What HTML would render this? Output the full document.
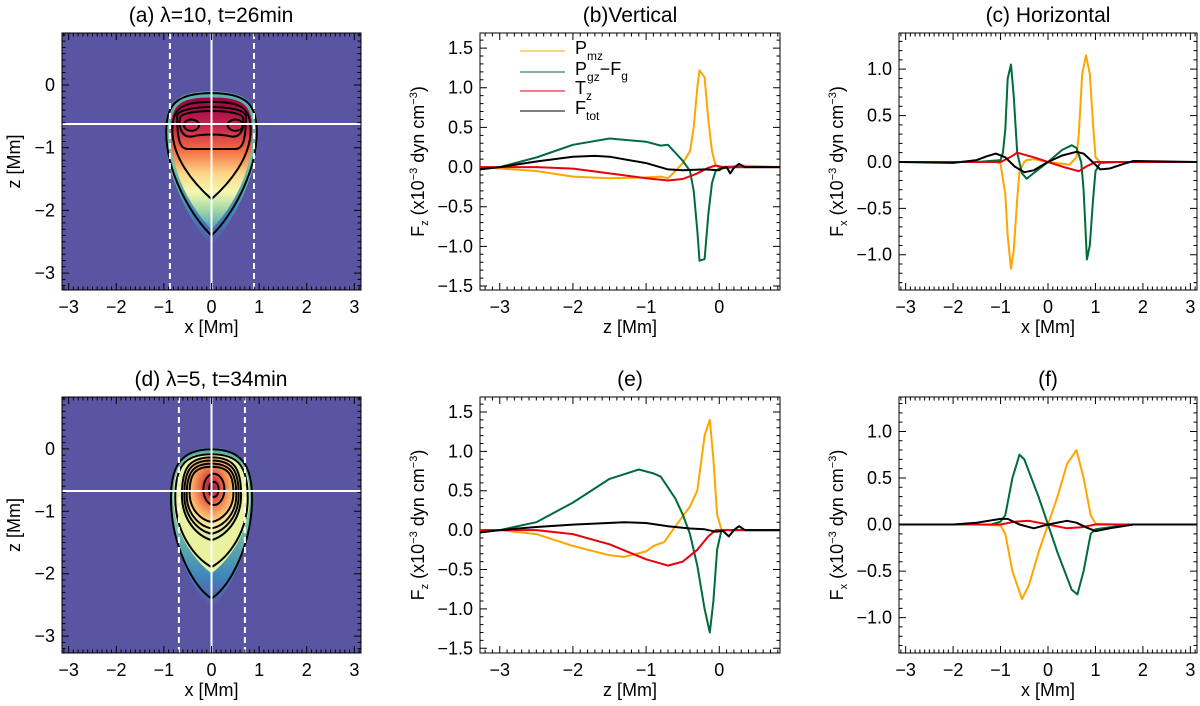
<!DOCTYPE html>
<html><head><meta charset="utf-8">
<style>
html,body{margin:0;padding:0;background:#fff;}
svg{display:block;font-family:"Liberation Sans",sans-serif;}
.tl{font-size:18px;fill:#000;}
.tt{font-size:21px;fill:#000;}
</style></head>
<body>
<svg id="fig" width="1200" height="706" viewBox="0 0 1200 706" xmlns="http://www.w3.org/2000/svg">
<defs>
<linearGradient id="gA" x1="0" y1="1" x2="0" y2="0">
<stop offset="0" stop-color="#9e0142"/><stop offset="0.22" stop-color="#c2244d"/><stop offset="0.4" stop-color="#f46d43"/><stop offset="0.58" stop-color="#fdd888"/><stop offset="0.72" stop-color="#f4f9b0"/><stop offset="0.86" stop-color="#9fd6a4"/><stop offset="1" stop-color="#4b9bbd"/>
</linearGradient>
<linearGradient id="gOut" x1="0" y1="1" x2="0" y2="0">
<stop offset="0" stop-color="#5aaeb0"/><stop offset="0.5" stop-color="#6fc0a6"/><stop offset="0.8" stop-color="#3f86bb"/><stop offset="1" stop-color="#5a55a3"/>
</linearGradient>
<radialGradient id="gD" cx="0.5" cy="0.65" r="0.6">
<stop offset="0" stop-color="#a0103f"/><stop offset="0.25" stop-color="#e0503e"/><stop offset="0.5" stop-color="#f89e5a"/><stop offset="0.75" stop-color="#fde89a"/><stop offset="1" stop-color="#d4ee9c"/>
</radialGradient>
<clipPath id="clipA"><rect x="62" y="33" width="299" height="257"/></clipPath>
<clipPath id="clipD"><rect x="62" y="397" width="299" height="256"/></clipPath>
</defs>

<g clip-path="url(#clipA)">
<rect x="62" y="33" width="299" height="257" fill="#5a55a3"/>
<g transform="translate(211.5,85) scale(47.7,-62.7)">
<path d="M0,-0.1 C0.75,-0.1 0.97,-0.3 0.97,-0.75 C0.97,-1.45 0.45,-2.2 0,-2.55 C-0.45,-2.2 -0.97,-1.45 -0.97,-0.75 C-0.97,-0.3 -0.75,-0.1 0,-0.1Z" fill="url(#gOut)"/>
<path d="M0,-0.2 C0.65,-0.2 0.86,-0.3 0.86,-0.75 C0.86,-1.4 0.4,-2.0 0,-2.3 C-0.4,-2.0 -0.86,-1.4 -0.86,-0.75 C-0.86,-0.3 -0.65,-0.2 0,-0.2Z" fill="url(#gA)"/>
<g fill="none" stroke="#000" stroke-width="2">
<path vector-effect="non-scaling-stroke" d="M0,-0.13 C0.72,-0.13 0.95,-0.3 0.95,-0.75 C0.95,-1.4 0.42,-2.1 0,-2.4 C-0.42,-2.1 -0.95,-1.4 -0.95,-0.75 C-0.95,-0.3 -0.72,-0.13 0,-0.13Z"/>
<path vector-effect="non-scaling-stroke" d="M0,-0.27 C0.6,-0.27 0.82,-0.35 0.82,-0.72 C0.82,-1.15 0.4,-1.55 0,-1.82 C-0.4,-1.55 -0.82,-1.15 -0.82,-0.72 C-0.82,-0.35 -0.6,-0.27 0,-0.27Z"/>
<path vector-effect="non-scaling-stroke" d="M-0.72,-0.5 C-0.72,-0.3 0.72,-0.3 0.72,-0.5 C0.72,-0.9 0.65,-1.02 0.5,-1.02 L-0.5,-1.02 C-0.65,-1.02 -0.72,-0.9 -0.72,-0.5Z"/>
<path vector-effect="non-scaling-stroke" d="M-0.66,-0.52 C-0.6,-0.38 0.6,-0.38 0.66,-0.52 C0.7,-0.7 0.6,-0.85 0.4,-0.82 C0.2,-0.78 -0.2,-0.78 -0.4,-0.82 C-0.6,-0.85 -0.7,-0.7 -0.66,-0.52Z"/>
<ellipse vector-effect="non-scaling-stroke" cx="-0.42" cy="-0.64" rx="0.16" ry="0.09"/>
<ellipse vector-effect="non-scaling-stroke" cx="0.5" cy="-0.64" rx="0.16" ry="0.09"/>
</g>
</g>
<line x1="211.5" y1="33" x2="211.5" y2="290" stroke="#fff" stroke-width="2"/>
<line x1="62" y1="124" x2="361" y2="124" stroke="#fff" stroke-width="2"/>
<line x1="169.9" y1="33" x2="169.9" y2="290" stroke="#fff" stroke-width="2" stroke-dasharray="6,4"/>
<line x1="254" y1="33" x2="254" y2="290" stroke="#fff" stroke-width="2" stroke-dasharray="6,4"/>
</g>

<g clip-path="url(#clipD)">
<rect x="62" y="397" width="299" height="256" fill="#5a55a3"/>
<g transform="translate(211.5,448) scale(47.7,-62.7)">
<path d="M0,0.0 C0.65,0.0 0.87,-0.3 0.87,-0.8 C0.87,-1.5 0.42,-2.25 0,-2.55 C-0.42,-2.25 -0.87,-1.5 -0.87,-0.8 C-0.87,-0.3 -0.65,0.0 0,0.0Z" fill="url(#gOut)"/>
<path d="M0,-0.08 C0.6,-0.08 0.8,-0.3 0.8,-0.8 C0.8,-1.35 0.35,-1.8 0,-2.0 C-0.35,-1.8 -0.8,-1.35 -0.8,-0.8 C-0.8,-0.3 -0.6,-0.08 0,-0.08Z" fill="#e9f29e"/>
<path d="M0,-0.15 C0.5,-0.15 0.62,-0.35 0.62,-0.75 C0.62,-1.15 0.3,-1.4 0,-1.5 C-0.3,-1.4 -0.62,-1.15 -0.62,-0.75 C-0.62,-0.35 -0.5,-0.15 0,-0.15Z" fill="url(#gD)"/>
<g fill="none" stroke="#000" stroke-width="2">
<path vector-effect="non-scaling-stroke" d="M0,-0.02 C0.65,-0.02 0.85,-0.3 0.85,-0.8 C0.85,-1.5 0.42,-2.2 0,-2.4 C-0.42,-2.2 -0.85,-1.5 -0.85,-0.8 C-0.85,-0.3 -0.65,-0.02 0,-0.02Z"/>
<path vector-effect="non-scaling-stroke" d="M0,-0.1 C0.58,-0.1 0.76,-0.3 0.76,-0.8 C0.76,-1.35 0.35,-1.75 0,-1.9 C-0.35,-1.75 -0.76,-1.35 -0.76,-0.8 C-0.76,-0.3 -0.58,-0.1 0,-0.1Z"/>
<path vector-effect="non-scaling-stroke" d="M0,-0.15 C0.5,-0.15 0.62,-0.35 0.62,-0.75 C0.62,-1.15 0.3,-1.4 0,-1.47 C-0.3,-1.4 -0.62,-1.15 -0.62,-0.75 C-0.62,-0.35 -0.5,-0.15 0,-0.15Z"/>
<path vector-effect="non-scaling-stroke" d="M0,-0.2 C0.45,-0.2 0.57,-0.37 0.57,-0.75 C0.57,-1.1 0.28,-1.32 0,-1.37 C-0.28,-1.32 -0.57,-1.1 -0.57,-0.75 C-0.57,-0.37 -0.45,-0.2 0,-0.2Z"/>
<path vector-effect="non-scaling-stroke" d="M0,-0.25 C0.4,-0.25 0.52,-0.4 0.52,-0.75 C0.52,-1.05 0.25,-1.25 0,-1.28 C-0.25,-1.25 -0.52,-1.05 -0.52,-0.75 C-0.52,-0.4 -0.4,-0.25 0,-0.25Z"/>
<path vector-effect="non-scaling-stroke" d="M0,-0.3 C0.35,-0.3 0.46,-0.42 0.46,-0.72 C0.46,-0.98 0.22,-1.15 0,-1.18 C-0.22,-1.15 -0.46,-0.98 -0.46,-0.72 C-0.46,-0.42 -0.35,-0.3 0,-0.3Z"/>
<ellipse vector-effect="non-scaling-stroke" cx="0.05" cy="-0.66" rx="0.22" ry="0.25"/>
<ellipse vector-effect="non-scaling-stroke" cx="0.05" cy="-0.66" rx="0.1" ry="0.12"/>
</g>
</g>
<line x1="211.5" y1="397" x2="211.5" y2="653" stroke="#fff" stroke-width="2"/>
<line x1="62" y1="491" x2="361" y2="491" stroke="#fff" stroke-width="2"/>
<line x1="178.9" y1="397" x2="178.9" y2="653" stroke="#fff" stroke-width="2" stroke-dasharray="6,4"/>
<line x1="244.9" y1="397" x2="244.9" y2="653" stroke="#fff" stroke-width="2" stroke-dasharray="6,4"/>
</g>

<g id="axes"></g>
<g id="lines"></g>

<text class="tt" x="211" y="22" text-anchor="middle">(a) λ=10, t=26min</text>
<text class="tt" x="630" y="22" text-anchor="middle">(b)Vertical</text>
<text class="tt" x="1048" y="22" text-anchor="middle">(c) Horizontal</text>
<text class="tt" x="211" y="386" text-anchor="middle">(d) λ=5, t=34min</text>
<text class="tt" x="630" y="386" text-anchor="middle">(e)</text>
<text class="tt" x="1048" y="386" text-anchor="middle">(f)</text>

<g font-size="18">
<g><line x1="520" y1="51" x2="565" y2="51" stroke="#ffa500" stroke-width="1"/><text x="575" y="54">P<tspan font-size="12" dy="6">mz</tspan></text></g>
<g><line x1="520" y1="72" x2="565" y2="72" stroke="#006b3c" stroke-width="1"/><text x="575" y="75">P<tspan font-size="12" dy="6">gz</tspan><tspan dy="-6">−F</tspan><tspan font-size="12" dy="5">g</tspan></text></g>
<g><line x1="520" y1="91" x2="565" y2="91" stroke="#e8000b" stroke-width="1"/><text x="575" y="94">T<tspan font-size="12" dy="6">z</tspan></text></g>
<g><line x1="520" y1="111" x2="565" y2="111" stroke="#000" stroke-width="1"/><text x="575" y="114">F<tspan font-size="12" dy="6">tot</tspan></text></g>
</g>
</svg>
<script>
const bZ_pmz = [-3.27,-2.5,-2,-1.5,-1,-0.8,-0.7,-0.6,-0.5,-0.4,-0.35,-0.3,-0.27,-0.2,-0.15,-0.1,-0.05,0,0.3,0.83];
const bV_pmz = [0,-0.05,-0.12,-0.14,-0.13,-0.12,-0.14,-0.05,0.05,0.2,0.5,1.0,1.22,1.13,0.6,0.2,0.02,0,0.02,0];
const bZ_pgz = [-3.27,-3,-2.5,-2,-1.5,-1,-0.8,-0.7,-0.6,-0.5,-0.4,-0.35,-0.3,-0.27,-0.2,-0.15,-0.1,-0.05,0,0.2,0.83];
const bV_pgz = [-0.02,0,0.12,0.28,0.36,0.32,0.27,0.28,0.18,0.08,-0.05,-0.3,-0.8,-1.18,-1.16,-0.6,-0.2,-0.05,-0.02,0,0];
const bZ_tz = [-3.27,-2.5,-2,-1.5,-1,-0.7,-0.5,-0.3,-0.15,-0.05,0.05,0.83];
const bV_tz = [0,0,-0.02,-0.08,-0.14,-0.17,-0.15,-0.08,-0.01,0.02,0,0];
const bZ_tot = [-3.27,-3,-2.5,-2,-1.7,-1.5,-1,-0.7,-0.5,-0.2,0,0.05,0.1,0.15,0.2,0.27,0.35,0.83];
const bV_tot = [-0.03,0,0.07,0.13,0.14,0.13,0.05,-0.03,-0.04,-0.03,-0.04,-0.01,0,-0.08,-0.01,0.04,0,0];
const cX_pgz = [-3.14,-1.5,-1.0,-0.95,-0.9,-0.85,-0.78,-0.72,-0.65,-0.55,-0.45,-0.3,0,0.3,0.5,0.6,0.7,0.75,0.82,0.88,0.95,1.0,1.1,1.5,3.14];
const cV_pgz = [0,0,0.02,0.1,0.35,0.9,1.05,0.7,0.1,-0.12,-0.18,-0.12,0,0.13,0.18,0.15,0,-0.3,-1.05,-0.9,-0.4,-0.1,-0.01,0,0];
const cX_pmz = [-3.14,-1.1,-1.0,-0.9,-0.85,-0.78,-0.72,-0.65,-0.6,-0.5,-0.45,-0.3,0,0.3,0.45,0.6,0.65,0.72,0.8,0.88,0.95,1.0,1.1,3.14];
const cV_pmz = [0,0,-0.02,-0.35,-0.8,-1.15,-0.95,-0.4,-0.1,0,0.02,0.03,0,-0.02,-0.03,0.05,0.3,0.95,1.15,0.95,0.4,0.05,0,0];
const cX_tz = [-3.14,-1.0,-0.8,-0.65,-0.3,0,0.3,0.65,0.8,1.0,3.14];
const cV_tz = [0,0,0.05,0.1,0.05,0,-0.05,-0.1,-0.05,0,0];
const cX_tot = [-3.14,-2,-1.5,-1.3,-1.1,-0.9,-0.7,-0.5,-0.3,0,0.3,0.6,0.75,0.9,1.1,1.3,1.6,1.8,3.14];
const cV_tot = [0,-0.01,0.02,0.06,0.09,0.05,-0.05,-0.11,-0.09,0,0.07,0.11,0.09,0.02,-0.08,-0.07,-0.02,0.01,0];
const eZ_pgz = [-3.27,-3,-2.5,-2,-1.5,-1.1,-0.9,-0.8,-0.6,-0.5,-0.4,-0.3,-0.2,-0.13,-0.08,-0.03,0.03,0.83];
const eV_pgz = [-0.02,0,0.1,0.35,0.65,0.77,0.72,0.68,0.4,0.2,-0.05,-0.45,-1.0,-1.3,-0.9,-0.25,0,0];
const eZ_pmz = [-3.27,-3,-2.5,-2,-1.5,-1.3,-1,-0.9,-0.75,-0.6,-0.4,-0.3,-0.2,-0.13,-0.08,-0.03,0.03,0.83];
const eV_pmz = [0,0,-0.05,-0.2,-0.32,-0.34,-0.27,-0.2,-0.15,0.05,0.3,0.5,1.2,1.4,0.9,0.2,0,0];
const eZ_tz = [-3.27,-2.5,-2,-1.5,-1,-0.7,-0.5,-0.3,-0.15,-0.05,0.83];
const eV_tz = [0,0,-0.05,-0.18,-0.37,-0.45,-0.4,-0.25,-0.08,0,0];
const eZ_tot = [-3.27,-3,-2.5,-2,-1.3,-1,-0.7,-0.4,-0.2,-0.05,0.05,0.13,0.2,0.27,0.35,0.83];
const eV_tot = [-0.03,0,0.04,0.07,0.1,0.09,0.05,0.02,0.01,-0.02,-0.01,-0.08,0,0.05,0,0];
const fX_pgz = [-3.14,-1.2,-1.0,-0.9,-0.75,-0.6,-0.5,-0.2,0,0.2,0.5,0.62,0.75,0.9,1.0,1.3,1.8,3.14];
const fV_pgz = [0,0,0.03,0.1,0.5,0.75,0.7,0.3,0,-0.3,-0.7,-0.75,-0.5,-0.1,-0.05,-0.03,0,0];
const fX_pmz = [-3.14,-1.5,-1,-0.9,-0.75,-0.55,-0.4,-0.2,0,0.2,0.4,0.6,0.75,0.9,1.0,1.5,3.14];
const fV_pmz = [0,0,-0.01,-0.1,-0.5,-0.8,-0.65,-0.3,0,0.3,0.65,0.8,0.5,0.1,0.01,0,0];
const fX_tz = [-3.14,-1,-0.7,-0.4,0,0.4,0.7,1,3.14];
const fV_tz = [0,0,0.03,0.04,0,-0.04,-0.03,0,0];
const fX_tot = [-3.14,-2,-1.5,-1.0,-0.85,-0.6,-0.3,0,0.4,0.6,0.8,1.0,1.3,1.8,3.14];
const fV_tot = [0,0,0.02,0.06,0.06,0,-0.04,0,0.04,0.02,-0.03,-0.07,-0.04,0,0];
const xTicksX = [-3,-2,-1,0,1,2,3];
const xTicksZ = [-3,-2,-1,0];
const yTicksZ = [0,-1,-2,-3];
const yTicksFz = [1.5,1.0,0.5,0.0,-0.5,-1.0,-1.5];
const yTicksFx = [1.0,0.5,0.0,-0.5,-1.0];

const NS='http://www.w3.org/2000/svg';
const axesG=document.getElementById('axes'), linesG=document.getElementById('lines');
function mk(tag,attrs,parent){const e=document.createElementNS(NS,tag);for(const k in attrs)e.setAttribute(k,attrs[k]);parent.appendChild(e);return e;}

const panels=[
 {id:'a',L:62,R:361,T:33,B:290,x0:-3.14,x1:3.14,y0:-3.27,y1:0.83,xt:xTicksX,yt:yTicksZ,fmt:v=>String(v),xl:'x [Mm]',yl:'z',minX:0.1,minY:0.1},
 {id:'b',L:480,R:780,T:33,B:290,x0:-3.27,x1:0.83,y0:-1.55,y1:1.69,xt:xTicksZ,yt:yTicksFz,fmt:v=>v.toFixed(1),xl:'z [Mm]',yl:'Fz',minX:0.1,minY:0.1},
 {id:'c',L:899,R:1197,T:33,B:290,x0:-3.14,x1:3.14,y0:-1.38,y1:1.39,xt:xTicksX,yt:yTicksFx,fmt:v=>v.toFixed(1),xl:'x [Mm]',yl:'Fx',minX:0.1,minY:0.1},
 {id:'d',L:62,R:361,T:397,B:653,x0:-3.14,x1:3.14,y0:-3.27,y1:0.83,xt:xTicksX,yt:yTicksZ,fmt:v=>String(v),xl:'x [Mm]',yl:'z',minX:0.1,minY:0.1},
 {id:'e',L:480,R:780,T:397,B:653,x0:-3.27,x1:0.83,y0:-1.56,y1:1.69,xt:xTicksZ,yt:yTicksFz,fmt:v=>v.toFixed(1),xl:'z [Mm]',yl:'Fz',minX:0.1,minY:0.1},
 {id:'f',L:899,R:1197,T:397,B:653,x0:-3.14,x1:3.14,y0:-1.38,y1:1.37,xt:xTicksX,yt:yTicksFx,fmt:v=>v.toFixed(1),xl:'x [Mm]',yl:'Fx',minX:0.1,minY:0.1}
];
function sx(p,v){return p.L+(v-p.x0)/(p.x1-p.x0)*(p.R-p.L);}
function sy(p,v){return p.B-(v-p.y0)/(p.y1-p.y0)*(p.B-p.T);}
const fmtm=s=>s.replace('-','−');

panels.forEach(p=>{
 const g=mk('g',{},axesG);
 
 
 const box=mk('rect',{x:p.L,y:p.T,width:p.R-p.L,height:p.B-p.T,fill:'none',stroke:'#000','stroke-width':1},g);
 
 
 let d='';
 for(let v=Math.ceil(p.x0/p.minX)*p.minX;v<=p.x1+1e-9;v+=p.minX){const X=sx(p,v);const maj=Math.abs(v-Math.round(v))<1e-6;const l=maj?7:3.5;d+=`M${X},${p.B}v${-l}M${X},${p.T}v${l}`;}
 for(let v=Math.ceil(p.y0/p.minY)*p.minY;v<=p.y1+1e-9;v+=p.minY){const Y=sy(p,v);const maj=p.yt.some(t=>Math.abs(t-v)<1e-6);const l=maj?7:3.5;d+=`M${p.L},${Y}h${l}M${p.R},${Y}h${-l}`;}
 const tk=mk('path',{d:d,stroke:'#000','stroke-width':1,fill:'none'},g);
 
 
 p.xt.forEach(v=>{const t=mk('text',{x:sx(p,v),y:p.B+23,'text-anchor':'middle',class:'tl'},g);t.textContent=fmtm(String(v));
  
  });
 p.yt.forEach(v=>{const t=mk('text',{x:p.L-7,y:sy(p,v)+6,'text-anchor':'end',class:'tl'},g);t.textContent=fmtm(p.fmt(v));
  
  });
 const xl=mk('text',{x:(p.L+p.R)/2,y:p.B+43,'text-anchor':'middle',class:'tl'},g);xl.textContent=p.xl;
 
 
 const cy=(p.T+p.B)/2;
 if(p.yl==='z'){
  const yl=mk('text',{x:0,y:0,'text-anchor':'middle',class:'tl',transform:`translate(${p.L-42},${cy}) rotate(-90)`},g);yl.textContent='z [Mm]';
  
  
 } else {
  const yl=mk('text',{x:0,y:0,'text-anchor':'middle',class:'tl',transform:`translate(${p.L-56},${cy}) rotate(-90)`},g);
  yl.innerHTML=`F<tspan font-size="11" dy="4">${p.yl[1]}</tspan><tspan dy="-4"> (x10</tspan><tspan font-size="11" dy="-7">−3</tspan><tspan dy="7"> dyn cm</tspan><tspan font-size="11" dy="-7">−3</tspan><tspan dy="7">)</tspan>`;
  
  
 }
});

const series={
 b:[[bZ_pmz,bV_pmz,'#ffa500','pmz'],[bZ_pgz,bV_pgz,'#006b3c','pgz-fg'],[bZ_tz,bV_tz,'#e8000b','tz'],[bZ_tot,bV_tot,'#000','ftot']],
 c:[[cX_pmz,cV_pmz,'#ffa500','pmz'],[cX_pgz,cV_pgz,'#006b3c','pgz-fg'],[cX_tz,cV_tz,'#e8000b','tz'],[cX_tot,cV_tot,'#000','ftot']],
 e:[[eZ_pmz,eV_pmz,'#ffa500','pmz'],[eZ_pgz,eV_pgz,'#006b3c','pgz-fg'],[eZ_tz,eV_tz,'#e8000b','tz'],[eZ_tot,eV_tot,'#000','ftot']],
 f:[[fX_pmz,fV_pmz,'#ffa500','pmz'],[fX_pgz,fV_pgz,'#006b3c','pgz-fg'],[fX_tz,fV_tz,'#e8000b','tz'],[fX_tot,fV_tot,'#000','ftot']]
};
panels.forEach(p=>{
 if(!series[p.id])return;
 series[p.id].forEach(s=>{
  const pts=s[0].map((x,i)=>sx(p,x).toFixed(1)+','+sy(p,s[1][i]).toFixed(1)).join(' ');
  const pl=mk('polyline',{points:pts,fill:'none',stroke:s[2],'stroke-width':2,'stroke-linejoin':'round'},linesG);
  
  
 });
});
</script>
</body></html>
